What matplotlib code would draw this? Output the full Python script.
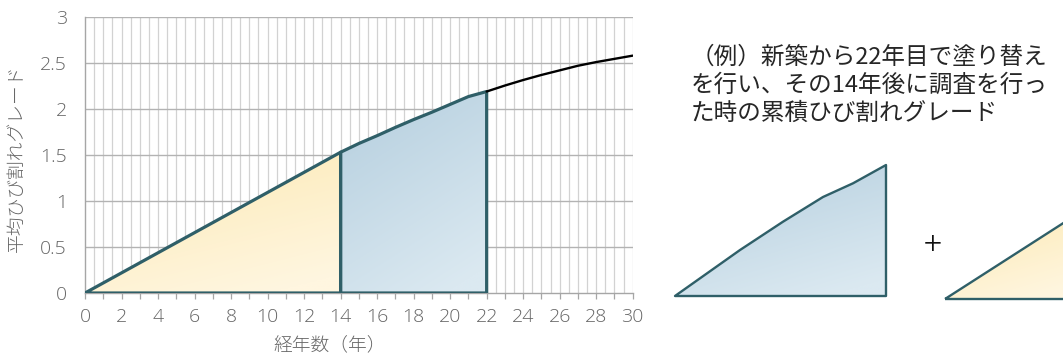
import numpy as np
import matplotlib
matplotlib.use("Agg")
import matplotlib.pyplot as plt
from matplotlib.colors import to_rgb

plt.rcParams['font.family'] = ['Noto Sans CJK JP', 'DejaVu Sans']

# Average crack grade over building age (years)
years = [0, 14, 15, 16, 17, 18, 19, 20, 21, 22, 23, 24, 25, 26, 27, 28, 29, 30]
grade = [0.0, 1.53, 1.625, 1.71, 1.80, 1.885, 1.965, 2.05, 2.135, 2.19,
         2.255, 2.315, 2.37, 2.42, 2.47, 2.51, 2.545, 2.58]

survey_years = 14      # years after repaint when surveyed
repaint_year = 22      # year of repainting

# Profile of the pre-repaint block shown on the right
block_x = [0, 6.78, 11.26, 15.43, 18.56, 22]
block_y = [0.0, 0.769, 1.242, 1.655, 1.884, 2.19]

x_ticks = list(range(0, 31, 2))
y_ticks = [0, 0.5, 1, 1.5, 2, 2.5, 3]
y_tick_labels = ['0', '0.5', '1', '1.5', '2', '2.5', '3']

note_lines = ['（例）新築から22年目で塗り替え',
              'を行い、その14年後に調査を行っ',
              'た時の累積ひび割れグレード']

EDGE = '#2f5f68'
BLUE_TOP, BLUE_BOT = '#b4cede', '#dbe9f1'
YEL_TOP, YEL_BOT = '#fce9b3', '#fff6e0'
TICK_C = '#666666'

W, H = 1063, 355
fig = plt.figure(figsize=(W / 100, H / 100), dpi=100)


def gradient_poly(ax, xs, ys, c_top, c_bot, lw, clip=True):
    xs = np.asarray(xs, float)
    ys = np.asarray(ys, float)
    patch, = ax.fill(xs, ys, facecolor='none', edgecolor=EDGE, lw=lw,
                     joinstyle='round', zorder=4, clip_on=clip)
    n = 200
    u, v = np.meshgrid(np.linspace(0, 1, n), np.linspace(0, 1, n))
    # darker toward the top-left, lighter toward the bottom-right
    t = np.clip(0.75 * v + 0.35 * (1 - u) - 0.1, 0, 1)
    a, b = np.array(to_rgb(c_top)), np.array(to_rgb(c_bot))
    img = b[None, None, :] * (1 - t[..., None]) + a[None, None, :] * t[..., None]
    xl, yl = ax.get_xlim(), ax.get_ylim()
    im = ax.imshow(img, extent=[xs.min(), xs.max(), ys.min(), ys.max()],
                   origin='lower', aspect='auto', zorder=3,
                   interpolation='bilinear')
    im.set_clip_path(patch)
    ax.set_xlim(xl)
    ax.set_ylim(yl)
    return patch


# ---- main chart ----
ax = fig.add_axes([85 / W, 1 - 293 / H, (632.7 - 85) / W, (293 - 17) / H])
ax.set_xlim(0, 30)
ax.set_ylim(0, 3)

for gx in np.arange(0.5, 30.01, 0.5):
    ax.axvline(gx, color='#d2d2d2', lw=0.9, zorder=1)
for gy in y_ticks[1:]:
    ax.axhline(gy, color='#b3b3b3', lw=1.0, zorder=1)

yrs = np.array(years, float)
grd = np.array(grade, float)

# after-repaint segment (0 .. survey_years)
m1 = yrs <= survey_years
gradient_poly(ax, list(yrs[m1]) + [survey_years],
              list(grd[m1]) + [0.0], YEL_TOP, YEL_BOT, 2.3)
# pre-repaint segment (survey_years .. repaint_year)
m2 = (yrs >= survey_years) & (yrs <= repaint_year)
gradient_poly(ax, [survey_years] + list(yrs[m2]) + [repaint_year],
              [0.0] + list(grd[m2]) + [0.0], BLUE_TOP, BLUE_BOT, 2.3)

m3 = yrs >= repaint_year
ax.plot(yrs[m3], grd[m3], color='black', lw=1.7, zorder=5,
        solid_capstyle='round')

for s in ['top', 'right']:
    ax.spines[s].set_visible(False)
for s in ['left', 'bottom']:
    ax.spines[s].set_color('#a6a6a6')
    ax.spines[s].set_linewidth(1.0)

ax.set_xticks(x_ticks)
ax.set_xticks(range(1, 31, 2), minor=True)
ax.set_yticks(y_ticks)
ax.set_yticklabels(y_tick_labels)
ax.tick_params(axis='x', which='both', direction='out', length=4.5,
               width=0.9, color='#a6a6a6', pad=6, labelsize=14,
               labelcolor=TICK_C)
ax.tick_params(axis='y', length=0, pad=13, labelsize=14, labelcolor=TICK_C)
for lab in ax.get_xticklabels() + ax.get_yticklabels():
    lab.set_family(['Open Sans', 'DejaVu Sans'])
    lab.set_fontweight('light')

fig.text(330 / W, 1 - 345 / H, '経年数（年）', ha='center', va='center',
         fontsize=13.5, color=TICK_C, fontweight='light')
fig.text(17 / W, 1 - 158 / H, '平均ひび割れグレード', ha='center', va='center',
         rotation=90, fontsize=13.5, color=TICK_C, fontweight='light')

# ---- note text ----
for i, line in enumerate(note_lines):
    fig.text(691 / W, 1 - (57 + 28 * i) / H, line, ha='left', va='center',
             fontsize=17, color='#262626')

# ---- decomposition shapes ----
bx = fig.add_axes([675 / W, 1 - 296 / H, 211 / W, 131 / H])
bx.set_xlim(0, repaint_year)
bx.set_ylim(0, grade[years.index(repaint_year)])
bx.axis('off')
gradient_poly(bx, block_x + [block_x[-1]], block_y + [0.0],
              BLUE_TOP, BLUE_BOT, 1.7, clip=False)

fig.text(933 / W, 1 - 246 / H, '+', ha='center', va='center',
         fontsize=24, color='#111111', fontweight='light')

yx = fig.add_axes([945 / W, 1 - 299 / H, 134 / W, 86 / H])
yx.set_xlim(0, survey_years)
yx.set_ylim(0, grade[years.index(survey_years)])
yx.axis('off')
gradient_poly(yx, [0, survey_years, survey_years],
              [0.0, grade[years.index(survey_years)], 0.0],
              YEL_TOP, YEL_BOT, 1.7, clip=False)

fig.savefig('out.png', dpi=100, facecolor='white')
